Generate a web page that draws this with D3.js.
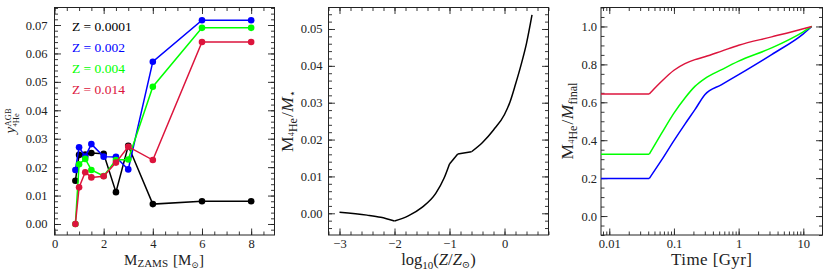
<!DOCTYPE html>
<html>
<head>
<meta charset="utf-8">
<script src="https://cdn.jsdelivr.net/npm/d3@7"></script>
<style>
  body { margin: 0; background: #fff; }
  text { font-family: "Liberation Serif", "DejaVu Serif", serif; }
</style>
</head>
<body>
<svg id="fig" width="830" height="277"></svg>
<script>
// ---- panel 1 : AGB helium yields vs initial mass
var masses = [0.85, 1, 1.25, 1.5, 2, 2.5, 3, 4, 6, 8];
var zLabels = ["Z = 0.0001", "Z = 0.002", "Z = 0.004", "Z = 0.014"];
var zColors = ["#000000", "#0000ff", "#00ff00", "#dc143c"];
var yHe_Z0001 = [0.0152, 0.0243, 0.0244, 0.0250, 0.0247, 0.0112, 0.0275, 0.0070, 0.0080, 0.0080];
var yHe_Z002  = [0.0190, 0.0270, 0.0237, 0.0281, 0.0237, 0.0236, 0.0192, 0.0571, 0.0717, 0.0717];
var yHe_Z004  = [0.0000, 0.0210, 0.0229, 0.0190, 0.0169, 0.0225, 0.0227, 0.0483, 0.0690, 0.0690];
var yHe_Z014  = [0.0000, 0.0129, 0.0182, 0.0164, 0.0168, 0.0216, 0.0272, 0.0225, 0.0640, 0.0640];
var p1xTicks = [0, 2, 4, 6, 8];
var p1yTicks = [0, 0.01, 0.02, 0.03, 0.04, 0.05, 0.06, 0.07];

// ---- panel 2 : integrated He mass fraction vs metallicity
var logZ   = [-3, -2.5, -2.25, -2, -1.75, -1.5, -1.25, -1.1, -1, -0.85, -0.6, -0.4, -0.2, 0, 0.1, 0.2, 0.3, 0.4, 0.5];
var heFrac = [0.0003, -0.0005, -0.0011, -0.0021, -0.0007, 0.0016, 0.0054, 0.0095, 0.0134, 0.0161, 0.0167,
              0.0192, 0.0226, 0.0268, 0.0302, 0.0350, 0.0402, 0.0461, 0.0538];
var logZBreaks = [-2, -1, -0.85, -0.6];   // grid nodes where the curve has a corner
var p2xTicks = [-3, -2, -1, 0];
var p2yTicks = [0, 0.01, 0.02, 0.03, 0.04, 0.05];

// ---- panel 3 : cumulative He mass vs time (Z = 0.002, 0.004, 0.014)
var tGyr    = [0.00745, 0.0415, 0.0646, 0.1, 0.148, 0.211, 0.30, 0.546, 1, 3.24, 10, 13.5];
var cum_Z002 = [0.198, 0.198, 0.296, 0.398, 0.485, 0.561, 0.640, 0.693, 0.746, 0.852, 0.961, 1.0];
var cum_Z004 = [0.326, 0.326, 0.437, 0.543, 0.623, 0.684, 0.725, 0.772, 0.817, 0.887, 0.972, 1.0];
var cum_Z014 = [0.644, 0.644, 0.711, 0.769, 0.804, 0.825, 0.840, 0.870, 0.901, 0.945, 0.988, 1.0];
var tBreaks = [0.0415];
var p3xTicks = [0.01, 0.1, 1, 10];
var p3xLabels = ["0.01", "0.1", "1", "10"];
var p3yTicks = [0, 0.2, 0.4, 0.6, 0.8, 1.0];

var svg = d3.select("#fig");
var plotTop = 7.5, plotBottom = 235;
var ink = "#222";

function inDomain(s, v) {
  var d = s.domain();
  return v >= Math.min(d[0], d[1]) - 1e-9 && v <= Math.max(d[0], d[1]) + 1e-9;
}

// one set of inward ticks on one side
function side(g, axisFn, scale, vals, size, tr, fmt, pad) {
  vals = vals.filter(function(v) { return inDomain(scale, v); });
  var a = axisFn(scale).tickValues(vals).tickSize(-size).tickPadding(pad || 0)
    .tickFormat(fmt || function() { return ""; });
  var s = g.append("g").attr("transform", tr).call(a);
  s.select(".domain").remove();
  s.attr("font-family", null).attr("font-size", 12.5).attr("color", ink);
  s.selectAll("line").attr("stroke-width", 0.9);
  return s;
}

function frame(g, x, y, o) {
  var x0 = x.range()[0], x1 = x.range()[1];
  side(g, d3.axisBottom, x, o.xMinor, 3.5, "translate(0," + plotBottom + ")");
  side(g, d3.axisTop, x, o.xMinor, 3.5, "translate(0," + plotTop + ")");
  side(g, d3.axisLeft, y, o.yMinor, 3.5, "translate(" + x0 + ",0)");
  side(g, d3.axisRight, y, o.yMinor, 3.5, "translate(" + x1 + ",0)");
  side(g, d3.axisBottom, x, o.xMajor, 6.5, "translate(0," + plotBottom + ")", o.xFmt, 4.6);
  side(g, d3.axisTop, x, o.xMajor, 6.5, "translate(0," + plotTop + ")");
  side(g, d3.axisLeft, y, o.yMajor, 6.5, "translate(" + x0 + ",0)", o.yFmt, o.yPad || 6);
  side(g, d3.axisRight, y, o.yMajor, 6.5, "translate(" + x1 + ",0)");
  g.append("rect").attr("x", x0).attr("y", plotTop).attr("width", x1 - x0).attr("height", plotBottom - plotTop)
    .attr("fill", "none").attr("stroke", ink).attr("stroke-width", 1);
}

// rich label: runs placed one after another, with mark/reset to stack sub+superscripts
function rich(parent, runs, cx, cy, rot, fs, ls) {
  var g = parent.append("g");
  var cur = 0, mark = 0, end = 0;
  runs.forEach(function(r) {
    if (r.mark) mark = cur;
    if (r.reset) cur = mark;
    var el = g.append("text").attr("x", cur).attr("y", r.dy || 0)
      .attr("font-size", r.fs || fs).attr("fill", ink)
      .attr("letter-spacing", ls || null)
      .attr("font-style", r.it ? "italic" : null).text(r.t);
    cur += el.node().getComputedTextLength() + (r.gap || 0);
    end = Math.max(end, cur);
  });
  g.attr("transform", "translate(" + cx + "," + cy + ") rotate(" + (rot || 0) + ") translate(" + (-end / 2) + ",0)");
  return g;
}

// smooth curve that keeps sharp corners at the given break x values
function cornerPath(g, xs, ys, breaks, line, color) {
  var pts = xs.map(function(v, i) { return [v, ys[i]]; });
  var segs = [[]];
  pts.forEach(function(p) {
    segs[segs.length - 1].push(p);
    if (breaks.indexOf(p[0]) >= 0) segs.push([p]);
  });
  segs.forEach(function(s) {
    if (s.length < 2) return;
    g.append("path").datum(s).attr("d", line).attr("fill", "none")
      .attr("stroke", color).attr("stroke-width", 1.5).attr("stroke-linejoin", "round");
  });
}

// ================= panel 1
var x1 = d3.scaleLinear().domain([0, 8.95]).range([54.5, 274.5]);
var y1 = d3.scaleLinear().domain([-0.00387, 0.07616]).range([plotBottom, plotTop]);
var g1 = svg.append("g");
frame(g1, x1, y1, {
  xMajor: p1xTicks, xMinor: d3.range(0, 9.01, 0.5), xFmt: d3.format("d"),
  yMajor: p1yTicks, yMinor: d3.range(-0.004, 0.0761, 0.002), yFmt: d3.format(".2f"), yPad: 7
});
var p1series = [yHe_Z0001, yHe_Z002, yHe_Z004, yHe_Z014];
var line1 = d3.line().x(function(d) { return x1(d[0]); }).y(function(d) { return y1(d[1]); });
p1series.forEach(function(ys, k) {
  var pts = masses.map(function(m, i) { return [m, ys[i]]; });
  g1.append("path").datum(pts).attr("d", line1).attr("fill", "none")
    .attr("stroke", zColors[k]).attr("stroke-width", 1.5);
  g1.selectAll(null).data(pts).enter().append("circle")
    .attr("cx", function(d) { return x1(d[0]); }).attr("cy", function(d) { return y1(d[1]); })
    .attr("r", 3.3).attr("fill", zColors[k]);
});
zLabels.forEach(function(t, k) {
  g1.append("text").attr("x", 72).attr("y", 30.5 + k * 21).attr("font-size", 13.5)
    .attr("fill", zColors[k]).text(t);
});
rich(g1, [{t: "M"}, {t: "ZAMS", fs: 11, dy: 1.5, gap: 5}, {t: "[M"}, {t: "\u2299", fs: 9, dy: 2.5}, {t: "]"}],
  164, 265, 0, 15);
rich(g1, [{t: "y", it: true, gap: 0.5, fs: 15}, {t: "AGB", fs: 8.5, dy: -4, mark: true},
          {t: "4", fs: 6.5, dy: 1.5, reset: true}, {t: "He", fs: 8.5, dy: 4}],
  15, 121, -90, 15);

// ================= panel 2
var x2 = d3.scaleLinear().domain([-3.2, 0.8]).range([328.5, 548.5]);
var y2 = d3.scaleLinear().domain([-0.00589, 0.05583]).range([plotBottom, plotTop]);
var g2 = svg.append("g");
frame(g2, x2, y2, {
  xMajor: p2xTicks, xMinor: d3.range(-3.2, 0.81, 0.2), xFmt: function(d) { return d3.format("d")(d).replace("-", "\u2212"); },
  yMajor: p2yTicks, yMinor: d3.range(-0.006, 0.0559, 0.002), yFmt: d3.format(".2f"), yPad: 6
});
var line2 = d3.line().curve(d3.curveMonotoneX).x(function(d) { return x2(d[0]); }).y(function(d) { return y2(d[1]); });
cornerPath(g2, logZ, heFrac, logZBreaks, line2, "#000");
rich(g2, [{t: "log"}, {t: "10", fs: 11, dy: 4}, {t: "("}, {t: "Z", it: true}, {t: "/"}, {t: "Z", it: true},
          {t: "\u2299", fs: 10, dy: 3}, {t: ")"}],
  438.5, 265, 0, 16.5);
rich(g2, [{t: "M"}, {t: "4", fs: 8.5, dy: 0.5}, {t: "He", fs: 12, dy: 4, gap: 1}, {t: "/", gap: 0.5}, {t: "M", it: true},
          {t: "\u22c6", fs: 11, dy: 3}],
  293, 121, -90, 17.5);

// ================= panel 3
var x3 = d3.scaleLog().domain([0.00745, 19.8]).range([601, 822.5]);
var y3 = d3.scaleLinear().domain([-0.1, 1.1]).range([plotBottom, plotTop]);
var g3 = svg.append("g");
var minorLog = [];
[0.001, 0.01, 0.1, 1, 10].forEach(function(dec) {
  d3.range(1, 10).forEach(function(m) { minorLog.push(dec * m); });
});
frame(g3, x3, y3, {
  xMajor: p3xTicks, xMinor: minorLog, xFmt: function(d) { return p3xLabels[p3xTicks.indexOf(d)]; },
  yMajor: p3yTicks, yMinor: d3.range(-0.1, 1.101, 0.05), yFmt: d3.format(".1f"), yPad: 4
});
var line3 = d3.line().curve(d3.curveMonotoneX).x(function(d) { return x3(d[0]); }).y(function(d) { return y3(d[1]); });
[[cum_Z002, zColors[1]], [cum_Z004, zColors[2]], [cum_Z014, zColors[3]]].forEach(function(s) {
  cornerPath(g3, tGyr, s[0], tBreaks, line3, s[1]);
});
rich(g3, [{t: "Time [Gyr]"}], 711.75, 265, 0, 17, 0.4);
rich(g3, [{t: "M"}, {t: "4", fs: 8.5, dy: 0.5}, {t: "He", fs: 12, dy: 4, gap: 1}, {t: "/", gap: 0.5}, {t: "M", it: true},
          {t: "final", fs: 12, dy: 4}],
  573, 121, -90, 17.5);
</script>
</body>
</html>
